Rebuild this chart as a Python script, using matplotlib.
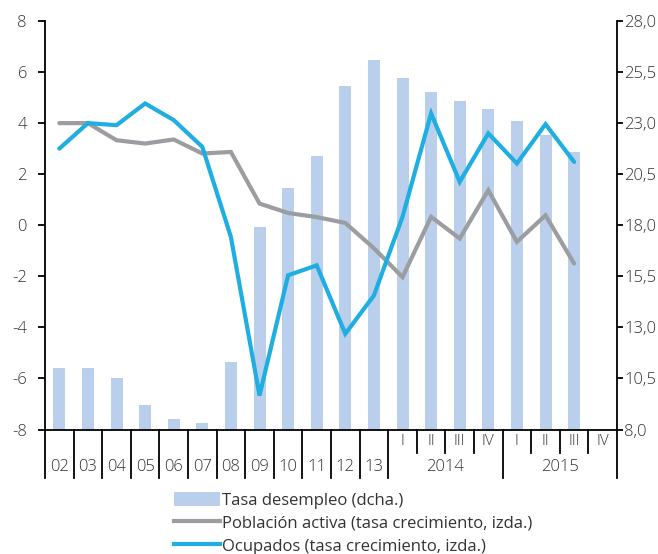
import matplotlib.pyplot as plt
from matplotlib.patches import Patch
from matplotlib.lines import Line2D
import matplotlib.transforms as mtransforms

plt.rcParams['font.family'] = ['Open Sans', 'DejaVu Sans']
plt.rcParams['font.weight'] = 'light'
plt.rcParams['axes.unicode_minus'] = False

# categorías: años 2002-2013 y trimestres de 2014-2015
years = ['02', '03', '04', '05', '06', '07', '08', '09', '10', '11', '12', '13']
quarters = ['I', 'II', 'III', 'IV']
quarter_years = ['2014', '2015']

# tasa de desempleo (%, eje dcho.), sin dato para 2015 IV
tasa_desempleo = [11.0, 11.0, 10.5, 9.2, 8.5, 8.3, 11.3, 17.9, 19.8, 21.4, 24.8, 26.1,
                  25.2, 24.5, 24.1, 23.7, 23.1, 22.4, 21.6, None]
# tasas de crecimiento (%, eje izdo.)
poblacion_activa = [4.0, 4.0, 3.33, 3.2, 3.36, 2.81, 2.87, 0.85, 0.48, 0.32, 0.09, -0.9,
                    -2.03, 0.33, -0.52, 1.37, -0.65, 0.39, -1.5]
ocupados = [3.0, 4.0, 3.92, 4.77, 4.12, 3.07, -0.46, -6.67, -1.96, -1.57, -4.25, -2.75,
            0.33, 4.38, 1.7, 3.6, 2.42, 3.96, 2.48]

col_bar = '#B9CFEB'
col_gray = '#9C9DA1'
col_blue = '#1FAEE2'
col_txt = '#333333'

n_cat = len(years) + len(quarters) * len(quarter_years)
x_all = list(range(n_cat))

fig = plt.figure(figsize=(6.58, 5.54), dpi=100)
ax = fig.add_axes([0.0684, 0.2247, 0.8693, 0.7374])
ax2 = ax.twinx()
ax.set_zorder(ax2.get_zorder() + 1)
ax.patch.set_visible(False)

# barras en el eje derecho
bx = [i for i, v in enumerate(tasa_desempleo) if v is not None]
bv = [v for v in tasa_desempleo if v is not None]
ax2.bar(bx, [v - 8 for v in bv], bottom=8, width=0.42, color=col_bar, edgecolor='none')

# líneas en el eje izquierdo
ax.plot(x_all[:len(poblacion_activa)], poblacion_activa, color=col_gray, lw=3,
        solid_capstyle='round', solid_joinstyle='miter')
ax.plot(x_all[:len(ocupados)], ocupados, color=col_blue, lw=3,
        solid_capstyle='round', solid_joinstyle='miter')

ax.set_xlim(-0.5, n_cat - 0.5)
ax.set_ylim(-8, 8)
ax.set_yticks(range(-8, 9, 2))
ax2.set_ylim(8, 28)
r_ticks = [8 + 2.5 * k for k in range(9)]
ax2.set_yticks(r_ticks)
ax2.set_yticklabels([f'{t:.1f}'.replace('.', ',') for t in r_ticks])

for a in (ax, ax2):
    a.spines['top'].set_visible(False)
    for s in a.spines.values():
        s.set_linewidth(1.3)
        s.set_color('black')
ax.spines['right'].set_visible(False)
ax2.spines['left'].set_visible(False)
ax2.spines['bottom'].set_visible(False)

ax.tick_params(axis='y', direction='out', length=5, width=1.3, pad=8,
               labelsize=12, labelcolor=col_txt)
ax2.tick_params(axis='y', direction='out', length=4, width=1.3, pad=1,
                labelsize=12, labelcolor=col_txt)
ax.set_xticks([])

# eje de categorías con separadores
trans = mtransforms.blended_transform_factory(ax.transData, ax.transAxes)
short = -23.0 / 408.5
long_ = -48.0 / 408.5
yr_y = -37.0 / 408.5
q_y = -12.0 / 408.5

for i, lab in enumerate(years):
    ax.text(i, yr_y, lab, transform=trans, ha='center', va='center',
            fontsize=12, color=col_txt)
    ax.plot([i - 0.5, i - 0.5], [0, long_], transform=trans, color='black',
            lw=1.3, clip_on=False)

start = len(years)
for k, yr in enumerate(quarter_years):
    g0 = start + k * len(quarters)
    ax.plot([g0 - 0.5, g0 - 0.5], [0, long_], transform=trans, color='black',
            lw=1.3, clip_on=False)
    for j, q in enumerate(quarters):
        ax.text(g0 + j, q_y, q, transform=trans, ha='center', va='center',
                fontsize=11, color=col_txt)
        if j > 0:
            ax.plot([g0 + j - 0.5, g0 + j - 0.5], [0, short], transform=trans,
                    color='black', lw=1.3, clip_on=False)
    ax.text(g0 + 1.5, yr_y, yr, transform=trans, ha='center', va='center',
            fontsize=12, color=col_txt)
ax.plot([n_cat - 0.5, n_cat - 0.5], [0, long_], transform=trans, color='black',
        lw=1.3, clip_on=False)

handles = [
    Patch(facecolor=col_bar, edgecolor='none'),
    Line2D([0], [0], color=col_gray, lw=3),
    Line2D([0], [0], color=col_blue, lw=3),
]
labels = ['Tasa desempleo (dcha.)',
          'Población activa (tasa crecimiento, izda.)',
          'Ocupados (tasa crecimiento, izda.)']
fig.legend(handles, labels, loc='upper left', bbox_to_anchor=(0.254, 0.124),
           frameon=False, prop={'size': 12, 'weight': 'normal'},
           handlelength=2.8, handleheight=0.9,
           handletextpad=0.1, labelspacing=0.38, borderaxespad=0,
           labelcolor=col_txt)

fig.savefig('out.png', dpi=100)
